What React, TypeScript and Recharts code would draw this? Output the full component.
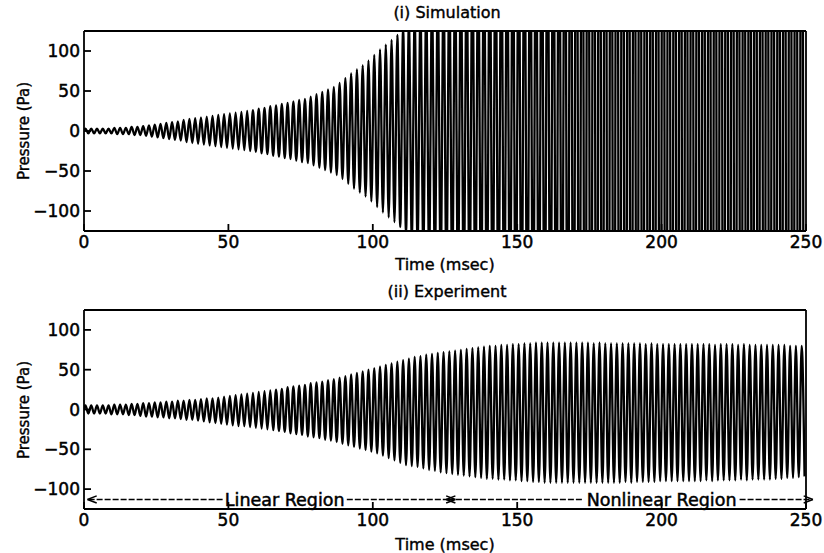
import React from "react";
import {
  LineChart,
  Line,
  XAxis,
  YAxis,
  ReferenceLine,
  ReferenceDot,
} from "recharts";

// one oscillation cycle every 2 ms, 125 cycles over the 250 ms record
const PERIOD_MS = 2.0;
const TIME_TICKS = [0, 50, 100, 150, 200, 250];
const PRESSURE_TICKS = [-100, -50, 0, 50, 100];

// simulated pressure amplitude per cycle (Pa); grows past the axis limits after ~110 ms
const simAmplitude = [
  3, 3, 3, 3, 3, 4, 4, 4, 5, 5,
  6, 7, 8, 9, 10, 11, 12, 14, 15, 16,
  17, 18, 19, 20, 21, 22, 23, 24, 25, 26,
  28, 29, 31, 32, 34, 35, 37, 39, 40, 43,
  46, 49, 52, 55, 60, 66, 72, 77, 82, 88,
  95, 102, 108, 114, 120, 128, 135, 142, 150, 158,
  166, 174, 182, 190, 198, 206, 214, 222, 230, 238,
  246, 254, 262, 270, 278, 286, 294, 302, 310, 320,
  330, 345, 370, 420, 480, 560, 640, 700, 760, 800,
  820, 780, 850, 900, 870, 820, 880, 940, 900, 860,
  910, 960, 930, 880, 840, 900, 950, 990, 940, 890,
  920, 970, 1000, 950, 900, 870, 930, 980, 1010, 960,
  910, 940, 990, 1020, 970,
];

// measured pressure: positive peak and negative trough per cycle (Pa)
const expPeak = [
  5, 5, 5, 5, 5, 6, 6, 6, 7, 7,
  8, 8, 9, 9, 10, 10, 11, 11, 12, 12,
  13, 14, 14, 15, 16, 17, 18, 19, 20, 21,
  22, 23, 24, 25, 26, 28, 29, 30, 31, 33,
  34, 35, 37, 38, 40, 42, 44, 46, 48, 50,
  52, 54, 56, 58, 60, 62, 64, 66, 67, 69,
  70, 71, 72, 73, 74, 75, 76, 77, 78, 79,
  80, 80, 81, 81, 82, 82, 83, 83, 84, 84,
  84, 84, 84, 84, 84, 84, 84, 84, 83, 84,
  83, 83, 83, 83, 83, 83, 83, 82, 83, 82,
  82, 82, 82, 82, 82, 82, 82, 82, 82, 81,
  82, 82, 82, 81, 82, 81, 81, 81, 81, 81,
  81, 81, 80, 80, 80,
];

const expTrough = [
  5, 5, 5, 5, 6, 6, 6, 7, 7, 8,
  9, 9, 10, 10, 11, 11, 12, 13, 13, 14,
  15, 16, 17, 18, 19, 20, 21, 21, 22, 23,
  24, 25, 26, 27, 28, 30, 31, 32, 34, 35,
  36, 38, 39, 41, 43, 45, 47, 49, 51, 53,
  55, 58, 61, 64, 67, 70, 71, 72, 74, 76,
  77, 79, 80, 81, 82, 83, 84, 85, 86, 87,
  87, 88, 88, 89, 89, 90, 90, 91, 91, 92,
  92, 92, 92, 92, 92, 92, 92, 92, 92, 92,
  92, 92, 92, 91, 92, 91, 91, 91, 91, 90,
  90, 90, 90, 90, 90, 90, 90, 89, 90, 89,
  89, 89, 89, 88, 89, 88, 88, 88, 88, 87,
  87, 86, 86, 85, 84,
];

type Pt = { t: number; p: number };

// peak at a quarter period, trough at three quarters
function toWave(peaks: number[], troughs: number[]): Pt[] {
  const pts: Pt[] = [{ t: 0, p: 0 }];
  peaks.forEach((a, i) => {
    pts.push({ t: i * PERIOD_MS + PERIOD_MS / 4, p: a });
    pts.push({ t: i * PERIOD_MS + (3 * PERIOD_MS) / 4, p: -troughs[i] });
  });
  return pts;
}

const simData = toWave(simAmplitude, simAmplitude);
const expData = toWave(expPeak, expTrough);

const FONT = "'DejaVu Sans', Verdana, sans-serif";
const tickStyle = {
  fontSize: 17,
  fill: "#000",
  fontFamily: FONT,
  stroke: "#000",
  strokeWidth: 0.5,
};
const axisLine = { stroke: "#000", strokeWidth: 1.8 };
const minus = (v: number) => (v < 0 ? `\u2212${Math.abs(v)}` : `${v}`);

const REGION_Y = -113;

function Panel({
  data,
  height,
  topH,
  bottomH,
  children,
}: {
  data: Pt[];
  height: number;
  topH: number;
  bottomH: number;
  children?: React.ReactNode;
}) {
  return (
    <LineChart
      width={824}
      height={height}
      data={data}
      margin={{ top: 0, right: 0, bottom: 0, left: 0 }}
    >
      <XAxis
        dataKey="t"
        type="number"
        domain={[0, 250]}
        ticks={TIME_TICKS}
        interval={0}
        height={bottomH}
        tickSize={-7}
        tickMargin={12}
        tick={tickStyle}
        axisLine={axisLine}
        tickLine={axisLine}
        allowDataOverflow
      />
      <XAxis
        xAxisId="top"
        orientation="top"
        type="number"
        domain={[0, 250]}
        ticks={TIME_TICKS}
        interval={0}
        height={topH}
        tickSize={-7}
        tick={false}
        axisLine={axisLine}
        tickLine={axisLine}
      />
      <YAxis
        type="number"
        domain={[-125, 125]}
        ticks={PRESSURE_TICKS}
        interval={0}
        width={84}
        tickSize={-7}
        tickMargin={11}
        tick={tickStyle}
        tickFormatter={minus}
        axisLine={axisLine}
        tickLine={axisLine}
        allowDataOverflow
      />
      <YAxis
        yAxisId="right"
        orientation="right"
        type="number"
        domain={[-125, 125]}
        ticks={PRESSURE_TICKS}
        interval={0}
        width={18}
        tickSize={-7}
        tick={false}
        axisLine={axisLine}
        tickLine={axisLine}
      />
      <Line
        dataKey="p"
        type="monotone"
        stroke="#000"
        strokeWidth={2.3}
        dot={false}
        isAnimationActive={false}
      />
      {children}
    </LineChart>
  );
}

const noteText = (label: string) => (props: any) => (
  <text
    x={props.cx}
    y={props.cy}
    dy="0.36em"
    textAnchor="middle"
    fontSize={17.5}
    fontFamily={FONT}
    fill="#000"
    stroke="#000"
    strokeWidth={0.5}
  >
    {label}
  </text>
);

const dash = { stroke: "#000", strokeWidth: 1.5, strokeDasharray: "6 2" };
const solid = { stroke: "#000", strokeWidth: 1.5 };

// arrowhead strokes: [tip time, tail time]
const arrowHeads: Array<[number, number]> = [
  [1.2, 4.4],
  [128.6, 125.4],
  [125.4, 128.6],
  [252.4, 249.2],
];
const dashRuns: Array<[number, number]> = [
  [1.6, 48],
  [91, 128],
  [126, 173],
  [227, 252],
];

function label(text: string, x: number, y: number, size: number) {
  return (
    <div
      style={{
        position: "absolute",
        left: x,
        top: y - size * 0.6,
        transform: "translateX(-50%)",
        fontFamily: FONT,
        fontSize: size,
        lineHeight: 1.2,
        whiteSpace: "nowrap",
        color: "#000",
        WebkitTextStroke: "0.4px #000",
      }}
    >
      {text}
    </div>
  );
}

function yLabel(y: number) {
  return (
    <div
      style={{
        position: "absolute",
        left: 24,
        top: y,
        transform: "translate(-50%, -50%) rotate(-90deg)",
        fontFamily: FONT,
        fontSize: 15,
        lineHeight: 1,
        whiteSpace: "nowrap",
        color: "#000",
        WebkitTextStroke: "0.4px #000",
      }}
    >
      Pressure (Pa)
    </div>
  );
}

export default function App() {
  return (
    <div
      style={{
        position: "absolute",
        left: 0,
        top: 0,
        width: 824,
        height: 553,
        background: "#fff",
        overflow: "hidden",
      }}
    >
      <div style={{ position: "absolute", left: 0, top: 0 }}>
        <Panel data={simData} height={280} topH={31} bottomH={49} />
      </div>
      <div style={{ position: "absolute", left: 0, top: 280 }}>
        <Panel data={expData} height={273} topH={30} bottomH={44}>
          {dashRuns.map(([a, b], i) => (
            <ReferenceLine
              key={`d${i}`}
              segment={[
                { x: a, y: REGION_Y },
                { x: b, y: REGION_Y },
              ]}
              ifOverflow="visible"
              {...dash}
            />
          ))}
          {arrowHeads.map(([tip, tail], i) => (
            <React.Fragment key={`a${i}`}>
              <ReferenceLine
                segment={[
                  { x: tail, y: REGION_Y + 4.5 },
                  { x: tip, y: REGION_Y },
                ]}
                ifOverflow="visible"
                {...solid}
              />
              <ReferenceLine
                segment={[
                  { x: tail, y: REGION_Y - 4.5 },
                  { x: tip, y: REGION_Y },
                ]}
                ifOverflow="visible"
                {...solid}
              />
            </React.Fragment>
          ))}
          <ReferenceDot
            x={69.5}
            y={REGION_Y}
            r={0}
            ifOverflow="visible"
            shape={noteText("Linear Region")}
          />
          <ReferenceDot
            x={200}
            y={REGION_Y}
            r={0}
            ifOverflow="visible"
            shape={noteText("Nonlinear Region")}
          />
        </Panel>
      </div>
      {label("(i) Simulation", 447, 13, 16)}
      {label("Time (msec)", 445, 265, 16)}
      {yLabel(131)}
      {label("(ii) Experiment", 447, 292, 16)}
      {label("Time (msec)", 445, 545, 16)}
      {yLabel(410)}
    </div>
  );
}
